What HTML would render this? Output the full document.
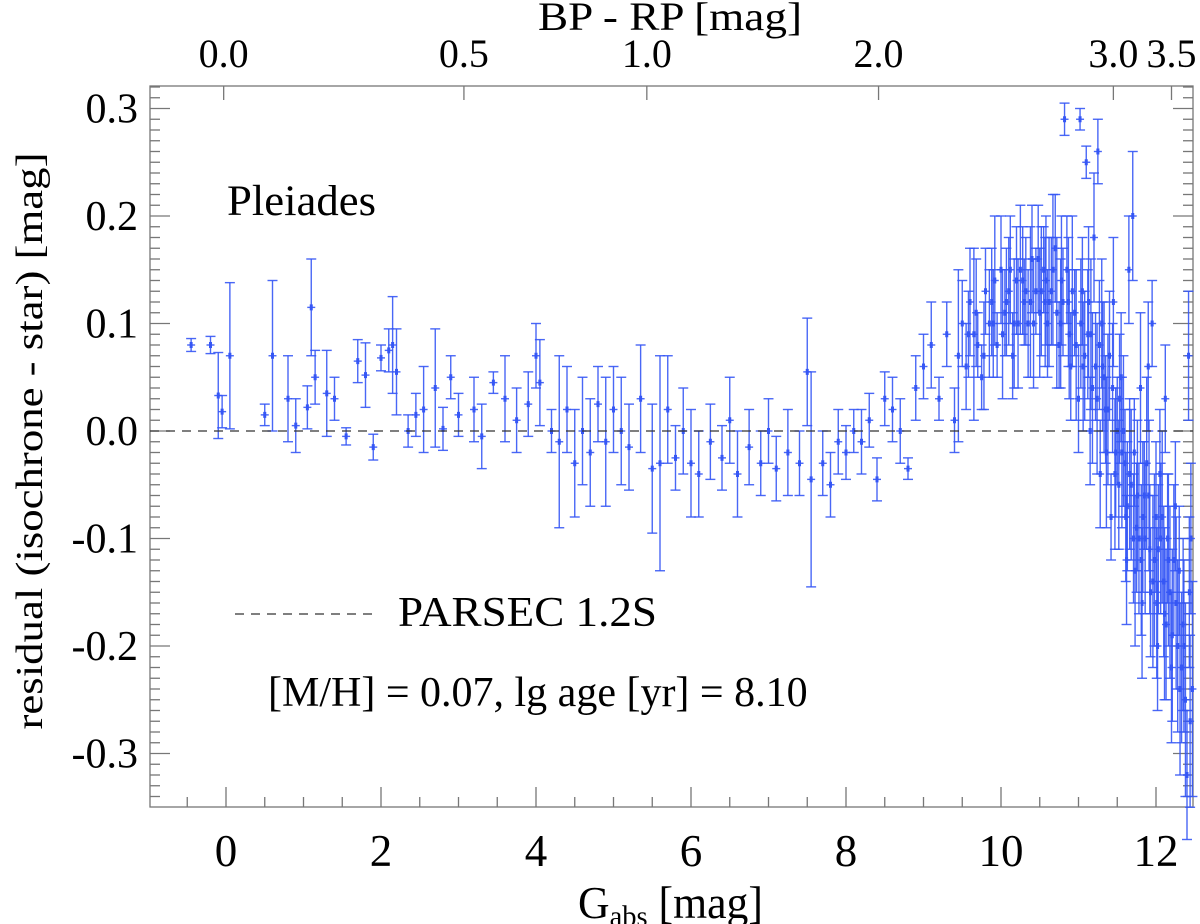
<!DOCTYPE html>
<html><head><meta charset="utf-8"><style>
html,body{margin:0;padding:0;background:#fff;}
svg{display:block;font-family:"Liberation Serif",serif;}
</style></head><body>
<svg id="chart" width="1200" height="924" viewBox="0 0 1200 924" xmlns="http://www.w3.org/2000/svg">
<g id="axes"></g>
<g id="marks"></g>
<line x1="150" y1="431" x2="1193" y2="431" stroke="#333" stroke-width="1.3" stroke-dasharray="9,7"/>
<text x="227" y="215" font-size="43" textLength="149" lengthAdjust="spacingAndGlyphs">Pleiades</text>
<line x1="235" y1="614" x2="372" y2="614" stroke="#333" stroke-width="1.3" stroke-dasharray="9,7"/>
<text x="398" y="626" font-size="42" textLength="259" lengthAdjust="spacingAndGlyphs">PARSEC 1.2S</text>
<text x="268" y="706" font-size="42">[M/H] = 0.07, lg age [yr] = 8.10</text>
<text transform="translate(42,441) rotate(-90)" text-anchor="middle" font-size="38" textLength="577" lengthAdjust="spacingAndGlyphs">residual (isochrone - star) [mag]</text>
<text x="578" y="918" font-size="46" textLength="185" lengthAdjust="spacingAndGlyphs">G<tspan font-size="30" dy="8">abs</tspan><tspan dy="-8"> [mag]</tspan></text>
<text x="538" y="30" font-size="40" textLength="264" lengthAdjust="spacingAndGlyphs">BP - RP [mag]</text>
</svg>
<script>
const gVals=[-0.45,-0.2,-0.1,-0.05,0.05,0.5,0.6,0.8,0.9,1.05,1.1,1.15,1.3,1.4,1.55,1.7,1.8,1.9,2.0,2.1,2.15,2.2,2.35,2.45,2.55,2.7,2.8,2.9,3.0,3.2,3.3,3.45,3.6,3.75,3.9,4.0,4.05,4.2,4.3,4.4,4.5,4.6,4.7,4.8,4.9,5.0,5.1,5.2,5.35,5.5,5.6,5.7,5.8,5.9,6.0,6.1,6.25,6.4,6.5,6.6,6.75,6.9,7.0,7.1,7.25,7.4,7.5,7.55,7.7,7.8,7.9,8.0,8.1,8.2,8.3,8.4,8.5,8.6,8.7,8.8,8.9,9.0,9.1,9.2,9.3,9.4,9.5,9.55,9.6,9.7,9.75,9.8,9.9,9.95,10.0,10.05,10.1,10.15,10.2,10.3,10.35,10.4,10.45,10.5,10.55,10.6,10.65,10.7,10.75,10.8,10.82,10.85,10.9,10.95,11.0,11.02,11.05,11.1,11.12,11.15,11.2,11.22,11.25,11.28,11.3,11.35,11.4,11.42,11.45,11.5,11.52,11.55,11.6,11.62,11.65,11.7,11.72,11.75,11.8,11.82,11.85,11.9,11.92,11.95,12.0,12.02,12.05,12.1,12.12,12.15,12.2,12.25,12.3,12.35,12.38,12.4,12.42,12.45,12.47,10.02,10.22,10.38,10.58,10.72,10.88,11.08,11.18,11.33,11.48,11.58,11.68,11.78,11.88,11.98,12.08,12.18,12.28,9.65,9.85,10.12,10.28,10.48,10.62,10.78,10.92,11.03,11.13,11.27,11.38,11.53,11.63,11.73,11.83,11.93,12.03,12.13,12.23,12.33,12.43,9.45,9.58,9.68,9.78,9.88,9.92,10.07,10.17,10.25,10.32,10.42,10.52,10.57,10.67,10.77,10.87,10.97,11.06,11.16,11.24,11.31,11.36,11.44,11.47,11.56,11.61,11.66,11.71,11.76,11.81,11.86,11.91,11.96,12.01,12.06,12.11,12.16,12.21,12.26,12.31,12.36,12.44];
const residVals=[0.08,0.08,0.033,0.018,0.07,0.015,0.07,0.03,0.005,0.022,0.115,0.05,0.035,0.03,-0.005,0.065,0.052,-0.015,0.068,0.075,0.08,0.055,0.0,0.015,0.02,0.04,0.002,0.05,0.015,0.02,-0.005,0.045,0.03,0.01,0.025,0.07,0.045,0.0,-0.01,0.02,-0.03,0.0,-0.02,0.025,-0.01,0.02,0.0,-0.015,0.03,-0.035,-0.03,0.02,-0.025,0.0,-0.03,-0.04,-0.01,-0.025,0.01,-0.04,-0.015,-0.03,0.0,-0.035,-0.02,-0.03,0.055,-0.045,-0.03,-0.05,-0.01,-0.02,0.0,-0.01,0.01,-0.045,0.03,0.02,0.0,-0.035,0.04,0.06,0.08,0.03,0.09,0.01,0.1,0.06,0.12,0.08,0.05,0.13,0.1,0.08,0.15,0.11,0.13,0.07,0.14,0.12,0.1,0.16,0.13,0.11,0.15,0.1,0.13,0.17,0.08,0.12,0.29,0.15,0.06,0.11,0.03,0.29,0.13,0.25,0.09,0.0,0.18,0.06,0.26,-0.04,0.1,0.02,0.07,-0.08,0.12,0.0,-0.05,0.05,-0.03,-0.12,0.15,0.2,-0.02,-0.09,0.04,-0.16,-0.06,0.06,-0.11,0.1,-0.08,-0.2,-0.04,-0.14,0.03,-0.1,-0.22,-0.07,-0.13,-0.18,-0.25,-0.32,0.07,-0.1,-0.24,0.09,0.1,0.12,0.14,0.11,0.09,0.07,0.04,0.05,-0.02,0.0,-0.05,-0.1,-0.03,-0.12,-0.08,-0.15,-0.2,0.09,0.1,0.15,0.14,0.16,0.12,0.14,0.13,0.1,0.12,0.08,0.02,0.03,-0.07,-0.13,-0.08,-0.15,-0.11,-0.18,-0.12,-0.22,-0.15,0.07,0.09,0.11,0.07,0.12,0.14,0.12,0.1,0.15,0.13,0.1,0.13,0.12,0.15,0.1,0.12,0.08,0.06,0.09,0.03,0.06,-0.02,0.04,-0.04,-0.02,-0.08,-0.04,-0.1,-0.06,-0.12,-0.1,-0.06,-0.14,-0.16,-0.1,-0.17,-0.12,-0.19,-0.16,-0.24,-0.2,-0.27];
const errVals=[0.006,0.008,0.04,0.015,0.068,0.01,0.07,0.04,0.025,0.02,0.045,0.025,0.04,0.02,0.008,0.02,0.03,0.012,0.012,0.02,0.045,0.04,0.015,0.02,0.04,0.055,0.02,0.02,0.02,0.03,0.03,0.01,0.04,0.03,0.03,0.03,0.04,0.02,0.08,0.04,0.05,0.05,0.05,0.035,0.06,0.04,0.05,0.04,0.05,0.06,0.1,0.05,0.03,0.04,0.05,0.04,0.035,0.03,0.04,0.04,0.035,0.03,0.03,0.03,0.04,0.03,0.05,0.1,0.03,0.03,0.03,0.025,0.02,0.03,0.025,0.02,0.025,0.03,0.03,0.01,0.03,0.03,0.04,0.02,0.03,0.03,0.04,0.04,0.05,0.03,0.03,0.04,0.05,0.03,0.05,0.04,0.05,0.04,0.05,0.04,0.05,0.05,0.04,0.06,0.04,0.05,0.05,0.05,0.04,0.05,0.015,0.05,0.05,0.04,0.05,0.01,0.05,0.015,0.06,0.05,0.06,0.05,0.03,0.05,0.06,0.05,0.06,0.04,0.06,0.05,0.06,0.06,0.05,0.06,0.05,0.06,0.05,0.06,0.07,0.07,0.05,0.06,0.06,0.04,0.07,0.06,0.06,0.07,0.05,0.06,0.07,0.06,0.06,0.08,0.09,0.06,0.06,0.07,0.1,0.06,0.06,0.07,0.06,0.07,0.06,0.06,0.07,0.07,0.06,0.07,0.07,0.07,0.08,0.08,0.08,0.08,0.08,0.08,0.05,0.05,0.05,0.05,0.06,0.06,0.07,0.06,0.07,0.06,0.07,0.06,0.06,0.07,0.07,0.06,0.06,0.07,0.07,0.07,0.07,0.08,0.04,0.05,0.05,0.05,0.06,0.05,0.06,0.06,0.05,0.06,0.06,0.06,0.07,0.06,0.06,0.07,0.06,0.07,0.07,0.06,0.07,0.06,0.07,0.07,0.06,0.07,0.06,0.07,0.07,0.07,0.07,0.08,0.07,0.07,0.08,0.08,0.08,0.08,0.08,0.08,0.08,0.08];
const xTicks=[0,2,4,6,8,10,12];
const yTicks=[-0.3,-0.2,-0.1,0.0,0.1,0.2,0.3];
const yTickLabels=["-0.3","-0.2","-0.1","0.0","0.1","0.2","0.3"];
const topTickLabels=["0.0","0.5","1.0","2.0","3.0","3.5"];
const topTickG=[-0.03,3.07,5.43,8.42,11.45,12.2];

const L=150,R=1193,T=86,B=807;
const xs=g=>226+(g)*77.5;
const ys=v=>431-v*1075;
const NS="http://www.w3.org/2000/svg";
function mk(tag,attrs,parent){const e=document.createElementNS(NS,tag);for(const k in attrs)e.setAttribute(k,attrs[k]);parent.appendChild(e);return e;}
const ax=document.getElementById('axes');
const frame=mk('rect',{x:L,y:T,width:R-L,height:B-T,fill:'none',stroke:'#777','stroke-width':1.3},ax);


for(let g=-0.5;g<=12.45;g+=0.5){
  const x=xs(g);const major=Math.abs(g-Math.round(g/2)*2)<1e-6;
  const t=mk('line',{x1:x,x2:x,y1:B,y2:B-(major?20:10),stroke:'#777','stroke-width':1.3},ax);
  
  
}
xTicks.forEach(g=>{
  const t=mk('text',{x:xs(g),y:866,'text-anchor':'middle','font-size':45},ax);t.textContent=String(g);
  
  
});
for(let i=-35;i<=32;i++){
  const v=i/100;const y=ys(v);if(y<T||y>B)continue;const major=i%10===0;
  const t=mk('line',{x1:L,x2:L+(major?20:10),y1:y,y2:y,stroke:'#777','stroke-width':1.3},ax);
  
  
  const t2=mk('line',{x1:R,x2:R-(major?20:10),y1:y,y2:y,stroke:'#777','stroke-width':1.3},ax);
  
  
}
yTicks.forEach((v,i)=>{
  const t=mk('text',{x:138,y:ys(v)+14,'text-anchor':'end','font-size':42},ax);t.textContent=yTickLabels[i];
  
  
});
topTickG.forEach((g,i)=>{
  const x=xs(g);
  const t=mk('line',{x1:x,x2:x,y1:T,y2:T+14,stroke:'#777','stroke-width':1.3},ax);
  
  
  const l=mk('text',{x:x,y:67,'text-anchor':'middle','font-size':40},ax);l.textContent=topTickLabels[i];
  
  
});
const mg=document.getElementById('marks');
gVals.forEach((g,i)=>{
  const x=xs(g),y=residVals[i],e=errVals[i];
  const y1=Math.max(T,ys(y+e)),y2=Math.min(B+110,ys(y-e));
  const grp=mk('g',{stroke:'#3556f5','stroke-width':1.4,fill:'none','stroke-opacity':0.9},mg);
  
  
  mk('line',{x1:x,x2:x,y1:y1,y2:y2},grp);
  if(ys(y+e)>=T) mk('line',{x1:x-5,x2:x+5,y1:y1,y2:y1},grp);
  mk('line',{x1:x-5,x2:x+5,y1:y2,y2:y2},grp);
  mk('line',{x1:x-4,x2:x+4,y1:ys(y),y2:ys(y)},grp);
  mk('rect',{x:x-1.5,y:ys(y)-3,width:3,height:6,fill:'#3556f5',stroke:'none'},grp);
});
</script>
</body></html>
